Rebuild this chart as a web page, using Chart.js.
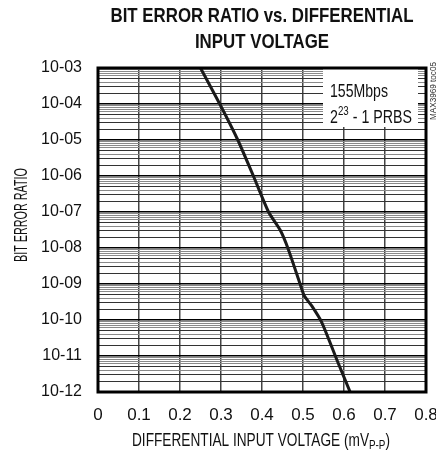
<!DOCTYPE html>
<html>
<head>
<meta charset="utf-8">
<script src="https://cdn.jsdelivr.net/npm/chart.js@4.4.1/dist/chart.umd.min.js"></script>
<style>
  html, body { margin: 0; padding: 0; background: #fff; }
  canvas { display: block; }
</style>
</head>
<body>
<canvas id="berChart" width="436" height="454"></canvas>
<script>
// values
const voltage = [0.25, 0.297, 0.341, 0.379, 0.416, 0.444, 0.463, 0.493, 0.503, 0.521, 0.546, 0.586, 0.615];
const ber = [1e-3, 1e-4, 1e-5, 1e-6, 1e-7, 3.2e-8, 1e-8, 1e-9, 4.7e-10, 2.5e-10, 8.5e-11, 6.3e-12, 1e-12];

const xTickLabels = ["0", "0.1", "0.2", "0.3", "0.4", "0.5", "0.6", "0.7", "0.8"];
const yDecades = [1e-12, 1e-11, 1e-10, 1e-9, 1e-8, 1e-7, 1e-6, 1e-5, 1e-4, 1e-3];
const yTickLabels = ["10-12", "10-11", "10-10", "10-09", "10-08", "10-07", "10-06", "10-05", "10-04", "10-03"];
const minorSteps = [2, 3, 4, 5, 6, 7, 8, 9];

const FONT = '"Liberation Sans Narrow", "Liberation Sans", Arial, sans-serif';

function mantissa(v) {
    const e = Math.floor(Math.log10(v) + 1e-9);
    return Math.round(v / Math.pow(10, e));
}

// draws a run of [text, size, dy] pieces squeezed to a given width
function squeezed(ctx, parts, x, y, width, align) {
    let total = 0;
    parts.forEach(p => {
        ctx.font = p[1] + 'px ' + FONT;
        total += ctx.measureText(p[0]).width;
    });
    const sx = width / total;
    let start = x;
    if (align === 'center') start = x - width / 2;
    ctx.save();
    ctx.translate(start, y);
    ctx.scale(sx, 1);
    ctx.textAlign = 'left';
    let cur = 0;
    parts.forEach(p => {
        ctx.font = p[1] + 'px ' + FONT;
        ctx.fillText(p[0], cur, p[2] || 0);
        cur += ctx.measureText(p[0]).width;
    });
    ctx.restore();
}

const points = voltage.map((v, i) => ({x: v, y: ber[i]}));

const textPlugin = {
    id: 'textPlugin',
    afterDatasetsDraw(chart) {
        const ctx = chart.ctx;
        const a = chart.chartArea;
        ctx.save();
        // note box
        ctx.fillStyle = '#fff';
        ctx.fillRect(323, a.top, 95, 127 - a.top);
        ctx.fillStyle = '#111';
        ctx.textBaseline = 'alphabetic';
        squeezed(ctx, [['155Mbps', 19]], 330, 97, 58, 'left');
        squeezed(ctx, [['2', 19], ['23', 13, -8], [' - 1 PRBS', 19]], 330, 123, 82, 'left');

        // frame
        ctx.strokeStyle = '#000';
        ctx.lineWidth = 3;
        ctx.strokeRect(a.left, a.top, a.right - a.left, a.bottom - a.top);
        ctx.restore();
    },
    afterDraw(chart) {
        const ctx = chart.ctx;
        const a = chart.chartArea;
        const cx = (a.left + a.right) / 2;
        ctx.save();
        ctx.fillStyle = '#111';
        ctx.textBaseline = 'alphabetic';

        // title, squeezed to the width of the original
        ctx.font = 'bold 21px ' + FONT;
        const t1 = 'BIT ERROR RATIO vs. DIFFERENTIAL';
        const t2 = 'INPUT VOLTAGE';
        const sx = 303 / ctx.measureText(t1).width;
        ctx.save();
        ctx.translate(cx, 0);
        ctx.scale(sx, 1);
        ctx.textAlign = 'center';
        ctx.fillText(t1, 0, 22);
        ctx.fillText(t2, 0, 48);
        ctx.restore();

        // x title with subscript
        squeezed(ctx, [['DIFFERENTIAL INPUT VOLTAGE (mV', 18], ['P-P', 13, 3], [')', 18]], 261, 446, 258, 'center');

        // y title
        ctx.save();
        ctx.translate(27, 215);
        ctx.rotate(-Math.PI / 2);
        squeezed(ctx, [['BIT ERROR RATIO', 18]], 0, 0, 94, 'center');
        ctx.restore();

        // side code
        ctx.save();
        ctx.translate(436, 91);
        ctx.rotate(-Math.PI / 2);
        ctx.fillStyle = '#333';
        squeezed(ctx, [['MAX3969 toc05', 9]], 0, 0, 58, 'center');
        ctx.restore();
        ctx.restore();
    }
};

new Chart("berChart", {
    type: "line",
    data: {
        datasets: [{
            data: points,
            borderColor: "#1a1a1a",
            borderWidth: 3,
            pointRadius: 0,
            tension: 0.2,
            fill: false
        }]
    },
    options: {
        responsive: false,
        animation: false,
        devicePixelRatio: 1,
        layout: { padding: { top: 68, right: 10, left: 0, bottom: 0 } },
        plugins: {
            legend: { display: false },
            tooltip: { enabled: false }
        },
        scales: {
            x: {
                type: "linear",
                min: 0,
                max: 0.8,
                afterFit: s => { s.height = 62; s.paddingLeft = 0; s.paddingRight = 0; },
                border: { display: false },
                grid: {
                    drawTicks: false,
                    color: "#444",
                    lineWidth: 1.5
                },
                ticks: {
                    stepSize: 0.1,
                    padding: 13,
                    color: "#111",
                    font: { family: FONT, size: 17 },
                    callback: (v, i) => xTickLabels[i]
                }
            },
            y: {
                type: "logarithmic",
                min: 1e-12,
                max: 1e-3,
                afterFit: s => { s.width = 98; s.paddingTop = 0; s.paddingBottom = 0; },
                afterBuildTicks: s => {
                    const t = [];
                    yDecades.forEach((d, i) => {
                        t.push({value: d, major: true});
                        if (i < yDecades.length - 1) {
                            minorSteps.forEach(m => t.push({value: d * m, major: false}));
                        }
                    });
                    s.ticks = t;
                },
                border: { display: false },
                grid: {
                    drawTicks: false,
                    color: c => {
                        const m = mantissa(c.tick.value);
                        if (m === 1) return "#000";
                        return (m === 2 || m === 3 || m === 5) ? "#333" : "#8a8a8a";
                    },
                    lineWidth: c => mantissa(c.tick.value) === 1 ? 1.5 : 1
                },
                ticks: {
                    autoSkip: false,
                    padding: 16,
                    color: "#111",
                    font: { family: FONT, size: 16 },
                    callback: v => {
                        const i = yDecades.findIndex(d => Math.abs(v / d - 1) < 1e-6);
                        return i >= 0 ? yTickLabels[i] : '';
                    }
                }
            }
        }
    },
    plugins: [textPlugin]
});
</script>
</body>
</html>
